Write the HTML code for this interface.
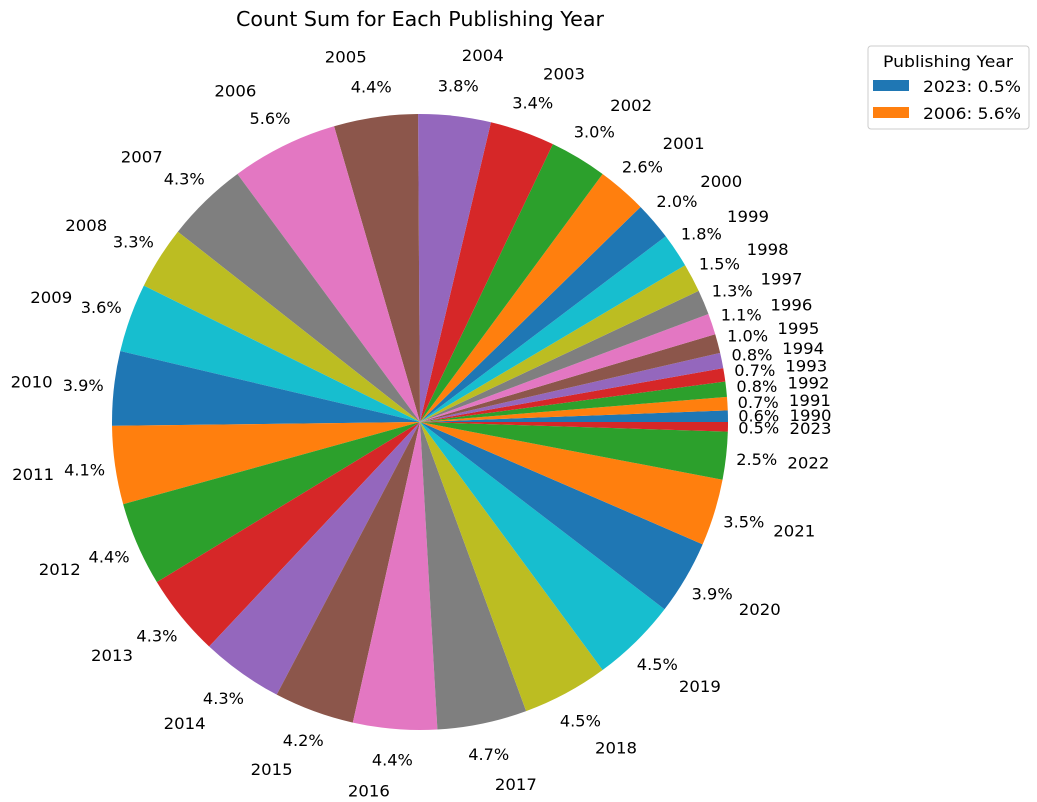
<!DOCTYPE html>
<html><head><meta charset="utf-8"><style>
html,body{margin:0;padding:0;background:#fff;}
svg{display:block;font-family:"DejaVu Sans","Liberation Sans",sans-serif;}
</style></head><body>
<svg id="chart" width="1037" height="802" viewBox="0 0 1037 802">
<text x="420" y="26" text-anchor="middle" font-size="20" fill="#000" textLength="368" lengthAdjust="spacingAndGlyphs">Count Sum for Each Publishing Year</text>
<g id="slices"></g>
<g id="labels"></g>
<g>
<rect x="868" y="46" width="161" height="83" rx="3" fill="#fff" stroke="#ccc"/>
<text x="948" y="67" text-anchor="middle" font-size="16" textLength="130" lengthAdjust="spacingAndGlyphs">Publishing Year</text>
<rect x="873" y="80" width="36" height="11" fill="#1f77b4"/>
<text x="923" y="92" font-size="16" textLength="98" lengthAdjust="spacingAndGlyphs">2023: 0.5%</text>
<rect x="873" y="107" width="36" height="11" fill="#ff7f0e"/>
<text x="923" y="119" font-size="16" textLength="98" lengthAdjust="spacingAndGlyphs">2006: 5.6%</text>
</g>
</svg>
<script>
const years = ["1990","1991","1992","1993","1994","1995","1996","1997","1998","1999","2000","2001","2002","2003","2004","2005","2006","2007","2008","2009","2010","2011","2012","2013","2014","2015","2016","2017","2018","2019","2020","2021","2022","2023"];
const values = [0.6,0.7,0.8,0.7,0.8,1.0,1.1,1.3,1.5,1.8,2.0,2.6,3.0,3.4,3.8,4.4,5.6,4.3,3.3,3.6,3.9,4.1,4.4,4.3,4.3,4.2,4.4,4.7,4.5,4.5,3.9,3.5,2.5,0.5];
const colors = ["#1f77b4","#ff7f0e","#2ca02c","#d62728","#9467bd","#8c564b","#e377c2","#7f7f7f","#bcbd22","#17becf"];
const cx=420, cy=422, R=308;
const NS="http://www.w3.org/2000/svg";
const total=values.reduce((a,b)=>a+b,0);
const startDeg=0;
const gS=document.getElementById('slices'), gL=document.getElementById('labels');
function pt(deg,r){const a=deg*Math.PI/180;return [cx+r*Math.cos(a), cy-r*Math.sin(a)];}
let ang=startDeg;
values.forEach((v,i)=>{
  const sweep=v/total*360;
  const a0=ang, a1=ang+sweep;
  const p0=pt(a0,R), p1=pt(a1,R);
  const large=sweep>180?1:0;
  const path=document.createElementNS(NS,'path');
  path.setAttribute('d',`M${cx},${cy} L${p0[0]},${p0[1]} A${R},${R} 0 ${large} 0 ${p1[0]},${p1[1]} Z`);
  path.setAttribute('fill',colors[i%10]);
  
  
  gS.appendChild(path);
  const mid=(a0+a1)/2;
  const pp=pt(mid,R*1.1);
  const t=document.createElementNS(NS,'text');
  t.setAttribute('x',pp[0]);t.setAttribute('y',pp[1]+6);
  t.setAttribute('text-anchor','middle');t.setAttribute('font-size','16');
  t.setAttribute('textLength','41');t.setAttribute('lengthAdjust','spacingAndGlyphs');
  t.textContent=v.toFixed(1)+'%';
  
  
  gL.appendChild(t);
  const lp=pt(mid,R*1.2);
  const y=document.createElementNS(NS,'text');
  y.setAttribute('x',lp[0]);y.setAttribute('y',lp[1]+6);
  y.setAttribute('text-anchor',Math.cos(mid*Math.PI/180)>=0?'start':'end');
  y.setAttribute('font-size','16');
  y.setAttribute('textLength','42');y.setAttribute('lengthAdjust','spacingAndGlyphs');
  y.textContent=years[i];
  
  
  gL.appendChild(y);
  ang=a1;
});
</script>
</body></html>
